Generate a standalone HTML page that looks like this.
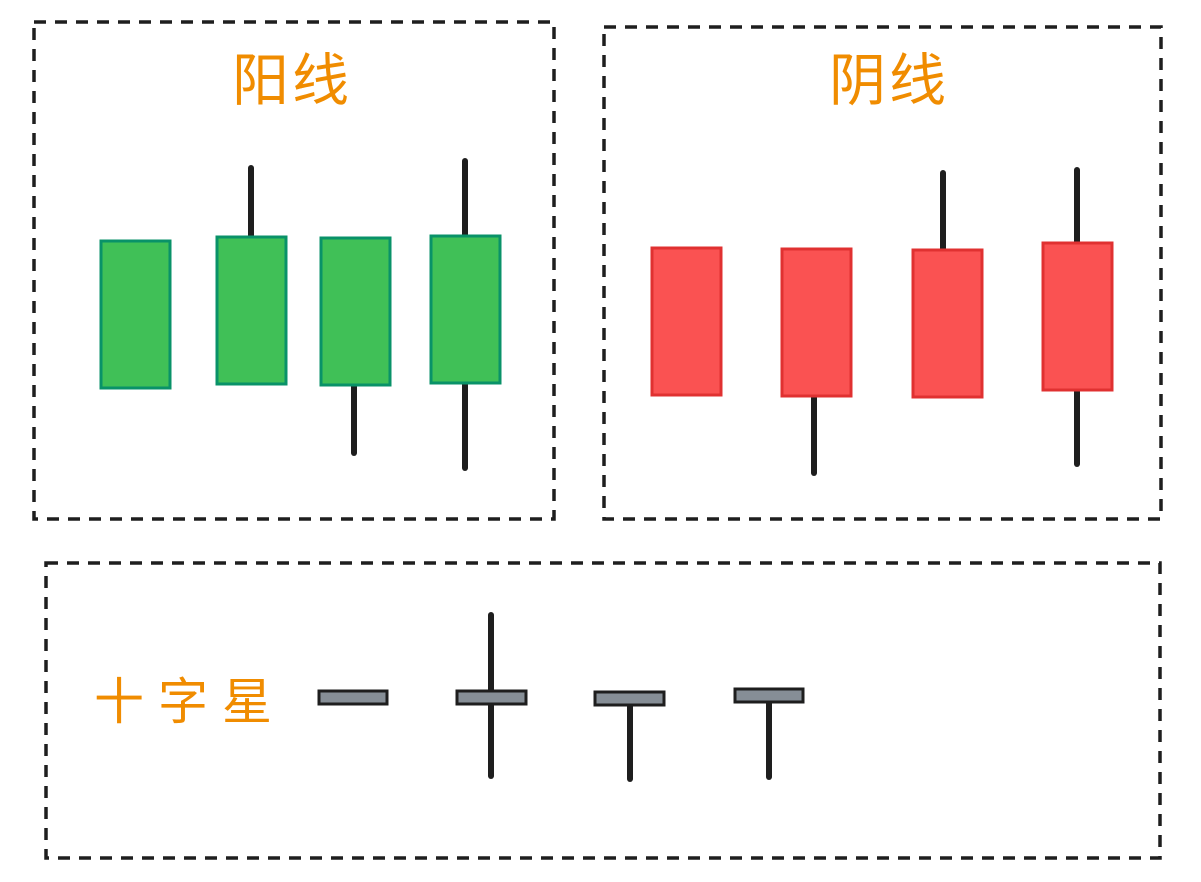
<!DOCTYPE html>
<html><head><meta charset="utf-8"><style>html,body{margin:0;padding:0;background:#fff}svg{display:block}</style></head>
<body>
<svg width="1201" height="882" viewBox="0 0 1201 882" xmlns="http://www.w3.org/2000/svg">
<g fill="none" stroke="#1e1e1e" stroke-width="3.5" stroke-dasharray="12 9">
<rect x="34" y="22" width="520" height="497"/>
<rect x="604" y="27" width="557" height="492"/>
<rect x="46" y="563" width="1114" height="295"/>
</g>
<g font-family="'Liberation Sans','Noto Sans CJK SC',sans-serif" fill="#f08c00">
<text x="232" y="100" font-size="57" letter-spacing="3">阳线</text>
<text x="829" y="100" font-size="57" letter-spacing="3">阴线</text>
<text x="94" y="719" font-size="50" letter-spacing="14">十字星</text>
</g>
<g stroke="#1e1e1e" stroke-width="6" stroke-linecap="round">
<line x1="251" y1="168" x2="251" y2="237"/>
<line x1="354" y1="385" x2="354" y2="453"/>
<line x1="465" y1="161" x2="465" y2="468"/>
<line x1="814" y1="396" x2="814" y2="473"/>
<line x1="943" y1="173" x2="943" y2="250"/>
<line x1="1077" y1="170" x2="1077" y2="464"/>
<line x1="491" y1="615" x2="491" y2="776"/>
<line x1="630" y1="705" x2="630" y2="779"/>
<line x1="769" y1="702" x2="769" y2="777"/>
</g>
<g fill="#40c057" stroke="#099268" stroke-width="3">
<rect x="101" y="241" width="69" height="147"/>
<rect x="217" y="237" width="69" height="147"/>
<rect x="321" y="238" width="69" height="147"/>
<rect x="431" y="236" width="69" height="147"/>
</g>
<g fill="#fa5252" stroke="#e03131" stroke-width="3">
<rect x="652" y="248" width="69" height="147"/>
<rect x="782" y="249" width="69" height="147"/>
<rect x="913" y="250" width="69" height="147"/>
<rect x="1043" y="243" width="69" height="147"/>
</g>
<g fill="#868e96" stroke="#1e1e1e" stroke-width="3">
<rect x="319" y="691" width="68" height="13"/>
<rect x="457" y="691" width="69" height="13"/>
<rect x="595" y="692" width="69" height="13"/>
<rect x="735" y="689" width="68" height="13"/>
</g>
</svg>
</body></html>
